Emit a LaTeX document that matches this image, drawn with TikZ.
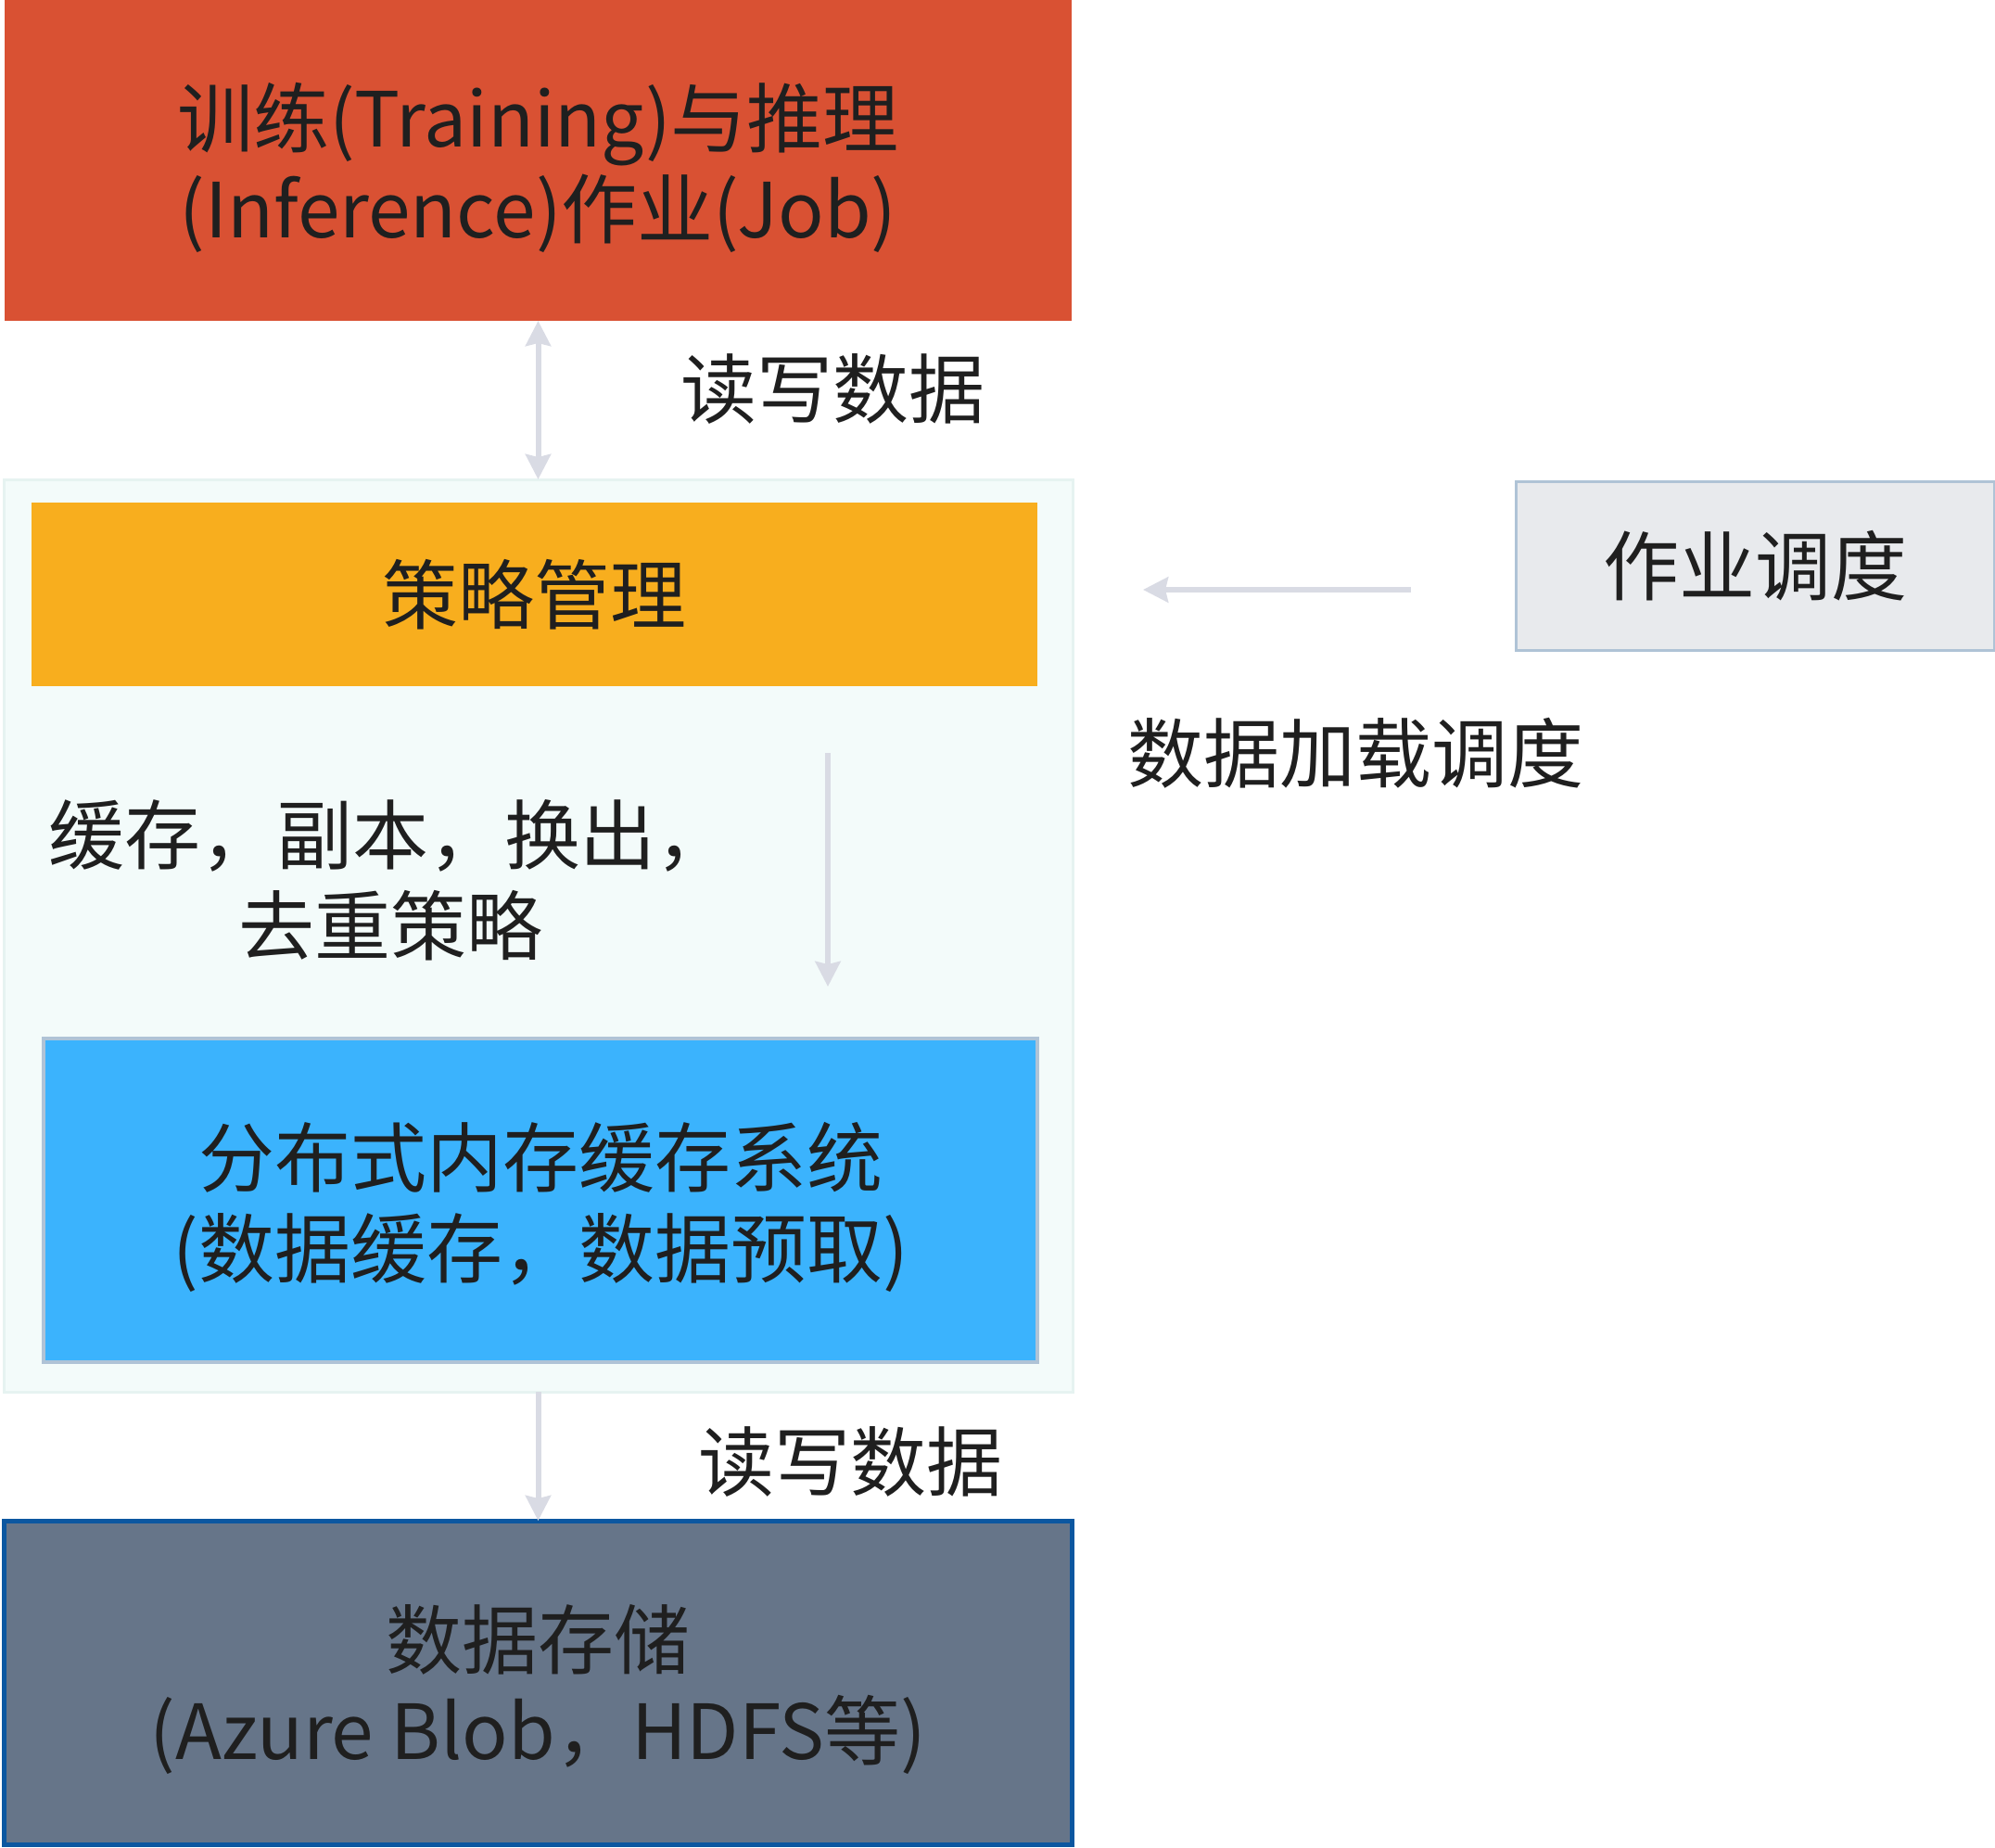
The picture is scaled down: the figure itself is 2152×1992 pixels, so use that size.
\documentclass[tikz,border=0pt]{standalone}
\usepackage{fontspec}
\setmainfont{Noto Sans CJK SC}
\usetikzlibrary{arrows.meta, positioning}
\definecolor{jobRed}{RGB}{217, 81, 51}
\definecolor{policyOrange}{RGB}{248, 174, 30}
\definecolor{cacheBlue}{RGB}{59, 179, 253}
\definecolor{storeSlate}{RGB}{102, 117, 137}
\definecolor{storeEdge}{RGB}{12, 87, 160}
\definecolor{schedGray}{RGB}{232, 234, 237}
\definecolor{paleEdge}{RGB}{175, 195, 214}
\definecolor{groupTint}{RGB}{243, 251, 250}
\definecolor{groupEdge}{RGB}{230, 243, 241}
\definecolor{arrowGray}{RGB}{217, 219, 228}
\definecolor{inkDark}{RGB}{31, 31, 31}
% struts for two-line block texts
\newcommand{\lineTop}{\rule{0pt}{88pt}}
\newcommand{\lineEnd}{\rule[-20pt]{0pt}{0pt}}
\tikzset{
    % Base Block Style
    block/.style={
        rectangle,
        outer sep=0pt,
        inner sep=0pt,
        align=center,
        text=inkDark,
        font=\fontsize{82}{98}\selectfont
    },
    % Specific Role Styles
    jobBox/.style={block, fill=jobRed, minimum width=1151pt, minimum height=346pt},
    groupBox/.style={block, fill=groupTint, draw=groupEdge, line width=3pt, minimum width=1153pt, minimum height=984pt},
    policyBox/.style={block, fill=policyOrange, minimum width=1085pt, minimum height=198pt},
    cacheBox/.style={block, fill=cacheBlue, draw=paleEdge, line width=4pt, minimum width=1072pt, minimum height=349pt},
    storeBox/.style={block, fill=storeSlate, draw=storeEdge, line width=5pt, minimum width=1152pt, minimum height=349pt},
    schedBox/.style={block, fill=schedGray, draw=paleEdge, line width=3pt, minimum width=516pt, minimum height=182pt},
    % Arrow & Label Styles
    link/.style={-{Stealth[length=27pt, width=27pt, inset=3pt]}, line width=6pt, draw=arrowGray},
    biLink/.style={link, {Stealth[length=27pt, width=27pt, inset=3pt]}-{Stealth[length=27pt, width=27pt, inset=3pt]}},
    tag/.style={align=center, inner sep=0pt, text=inkDark, font=\fontsize{82}{98}\selectfont}
}
\begin{document}
\begin{tikzpicture}[x=1pt, y=1pt]
    \useasboundingbox (0,0) rectangle (2152,-1992);

    % --- MAIN COLUMN ---

    % 1. Jobs (Top)
    \node (job) [jobBox] at (580.5,-173) {
        \lineTop 训练(Training)与推理\\
        (Inference)作业(Job)\lineEnd
    };

    % 2. Cache group (Middle)
    \node (group) [groupBox, below=171pt of job] {};
    \node (policy) [policyBox, below=25pt of group.north, xshift=-4pt] {策略管理};
    \node (cache) [cacheBox, above=32pt of group.south, xshift=2.5pt] {
        \lineTop 分布式内存缓存系统\\
        (数据缓存，数据预取)\lineEnd
    };

    % 3. Storage (Bottom)
    \node (store) [storeBox, below=139pt of group] {
        \lineTop 数据存储\\
        (Azure Blob，HDFS等)\lineEnd
    };

    % --- RIGHT SIDE ---
    \node (sched) [schedBox] at (1893,-610) {作业调度};

    % --- Labels ---
    \node (rwTop) [tag] at (898,-419) {读写数据};
    \node (rwBottom) [tag] at (917,-1576) {读写数据};
    \node (loadTag) [tag] at (1462,-812) {数据加载调度};
    \node (ruleTag) [tag] at (421,-949) {缓存，副本，换出，\\去重策略};

    % --- Arrows ---
    \coordinate (loadFrom) at (1522,-636);
    \coordinate [left=289pt of loadFrom] (loadTo);
    \coordinate (ruleFrom) at (893,-812);
    \coordinate [below=252pt of ruleFrom] (ruleTo);

    \draw [biLink] (job) -- (group);        % Read / write
    \draw [link] (loadFrom) -- (loadTo);    % Scheduling
    \draw [link] (ruleFrom) -- (ruleTo);    % Policy down
    \draw [link] (group) -- (store);        % Read / write

\end{tikzpicture}
\end{document}
